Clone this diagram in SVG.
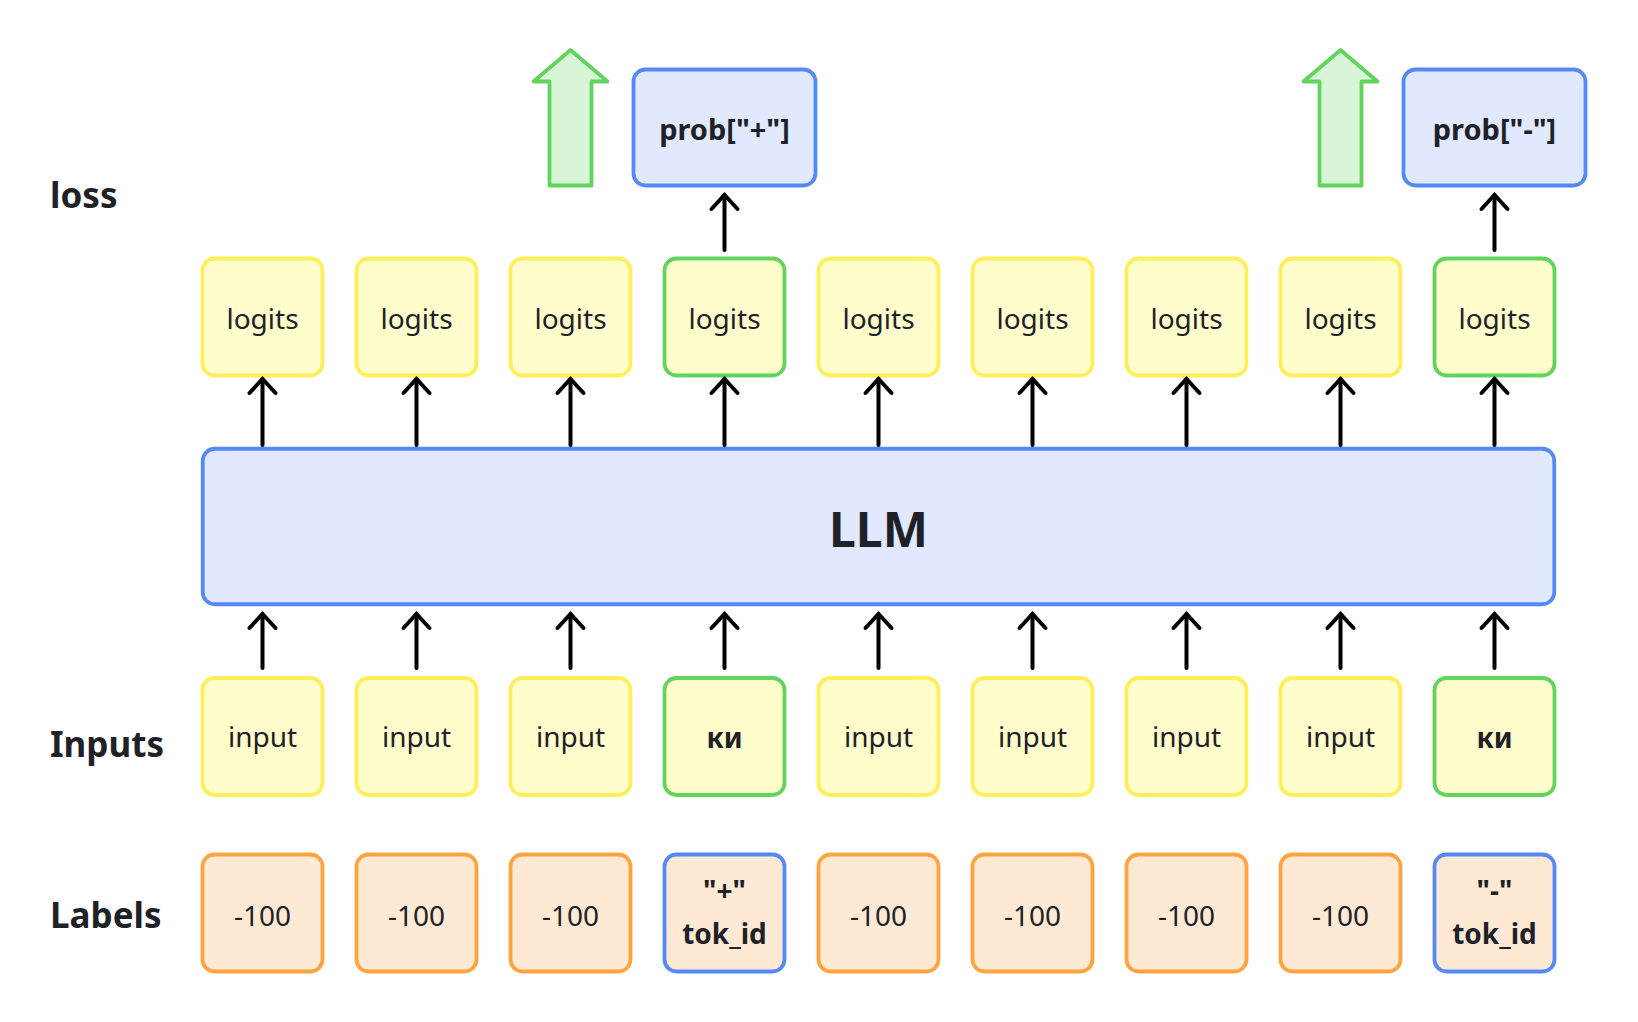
<svg xmlns="http://www.w3.org/2000/svg" width="1638" height="1022" viewBox="0 0 1638 1022">
  <style>
    text { font-family: "Noto Sans", "Open Sans", "Liberation Sans", sans-serif; fill: #1e2127; }
    .t { font-size: 28px; text-anchor: middle; }
    .b { font-weight: bold; }
    .p { font-size: 29px; }
    .row { font-size: 35px; font-weight: bold; }
    .yellow { fill: #fffdcb; stroke: #feee5a; stroke-width: 3.8; }
    .green { fill: #fffdcb; stroke: #62d35c; stroke-width: 3.8; }
    .orange { fill: #fde9d4; stroke: #fda43f; stroke-width: 3.8; }
    .blueo { fill: #fde9d4; stroke: #5589f6; stroke-width: 3.8; }
    .blue { fill: #e0e9fd; stroke: #5589f6; stroke-width: 3.8; }
    .big { fill: #d9f5d7; stroke: #62d35c; stroke-width: 3.8; stroke-linejoin: round; }
    .conn { stroke: #000; stroke-width: 4; fill: none; stroke-linecap: round; marker-end: url(#ah); }
  </style>
  <defs>
    <marker id="ah" markerUnits="userSpaceOnUse" viewBox="-18 -18 22 36" refX="0" refY="0" markerWidth="22" markerHeight="36" orient="auto" overflow="visible">
      <path d="M-14,-13 L0,0 L-14,13" fill="none" stroke="#000" stroke-width="4" stroke-linecap="round" stroke-linejoin="miter"/>
    </marker>
  </defs>

  <rect width="1638" height="1022" fill="#fff"/>

  <g id="row-labels">
    <text class="row" x="50" y="208">loss</text>
    <text class="row" x="50" y="757">Inputs</text>
    <text class="row" x="50" y="928">Labels</text>
  </g>

  <g id="loss-arrow-1">
    <polygon class="big" points="570.5,50 607.5,81.5 591.5,81.5 591.5,185.5 549.5,185.5 549.5,81.5 533.5,81.5"/>
  </g>
  <g id="loss-arrow-2">
    <polygon class="big" points="1340.5,50 1377.5,81.5 1361.5,81.5 1361.5,185.5 1319.5,185.5 1319.5,81.5 1303.5,81.5"/>
  </g>

  <g id="prob-plus">
    <rect class="blue" x="633.5" y="69.5" width="182" height="116" rx="12"/>
    <text class="t b p" x="724.5" y="140">prob["+"]</text>
  </g>
  <g id="prob-minus">
    <rect class="blue" x="1403.5" y="69.5" width="182" height="116" rx="12"/>
    <text class="t b p" x="1494.5" y="140">prob["-"]</text>
  </g>

  <g id="logits-1"><rect class="yellow" x="202.5" y="258.5" width="120" height="117" rx="12"/><text class="t" x="262.5" y="329">logits</text></g>
  <g id="logits-2"><rect class="yellow" x="356.5" y="258.5" width="120" height="117" rx="12"/><text class="t" x="416.5" y="329">logits</text></g>
  <g id="logits-3"><rect class="yellow" x="510.5" y="258.5" width="120" height="117" rx="12"/><text class="t" x="570.5" y="329">logits</text></g>
  <g id="logits-4"><rect class="green" x="664.5" y="258.5" width="120" height="117" rx="12"/><text class="t" x="724.5" y="329">logits</text></g>
  <g id="logits-5"><rect class="yellow" x="818.5" y="258.5" width="120" height="117" rx="12"/><text class="t" x="878.5" y="329">logits</text></g>
  <g id="logits-6"><rect class="yellow" x="972.5" y="258.5" width="120" height="117" rx="12"/><text class="t" x="1032.5" y="329">logits</text></g>
  <g id="logits-7"><rect class="yellow" x="1126.5" y="258.5" width="120" height="117" rx="12"/><text class="t" x="1186.5" y="329">logits</text></g>
  <g id="logits-8"><rect class="yellow" x="1280.5" y="258.5" width="120" height="117" rx="12"/><text class="t" x="1340.5" y="329">logits</text></g>
  <g id="logits-9"><rect class="green" x="1434.5" y="258.5" width="120" height="117" rx="12"/><text class="t" x="1494.5" y="329">logits</text></g>

  <g id="llm">
    <rect class="blue" x="202.75" y="448.75" width="1351.5" height="155.5" rx="12"/>
    <text x="878.5" y="547" font-size="48" font-weight="bold" text-anchor="middle">LLM</text>
  </g>

  <g id="input-1"><rect class="yellow" x="202.5" y="678" width="120" height="117" rx="12"/><text class="t" x="262.5" y="747">input</text></g>
  <g id="input-2"><rect class="yellow" x="356.5" y="678" width="120" height="117" rx="12"/><text class="t" x="416.5" y="747">input</text></g>
  <g id="input-3"><rect class="yellow" x="510.5" y="678" width="120" height="117" rx="12"/><text class="t" x="570.5" y="747">input</text></g>
  <g id="input-4"><rect class="green" x="664.5" y="678" width="120" height="117" rx="12"/><text class="t b" x="724.5" y="748">ки</text></g>
  <g id="input-5"><rect class="yellow" x="818.5" y="678" width="120" height="117" rx="12"/><text class="t" x="878.5" y="747">input</text></g>
  <g id="input-6"><rect class="yellow" x="972.5" y="678" width="120" height="117" rx="12"/><text class="t" x="1032.5" y="747">input</text></g>
  <g id="input-7"><rect class="yellow" x="1126.5" y="678" width="120" height="117" rx="12"/><text class="t" x="1186.5" y="747">input</text></g>
  <g id="input-8"><rect class="yellow" x="1280.5" y="678" width="120" height="117" rx="12"/><text class="t" x="1340.5" y="747">input</text></g>
  <g id="input-9"><rect class="green" x="1434.5" y="678" width="120" height="117" rx="12"/><text class="t b" x="1494.5" y="748">ки</text></g>

  <g id="label-1"><rect class="orange" x="202.5" y="854.5" width="120" height="117" rx="12"/><text class="t" x="262.5" y="926" font-size="29">-100</text></g>
  <g id="label-2"><rect class="orange" x="356.5" y="854.5" width="120" height="117" rx="12"/><text class="t" x="416.5" y="926" font-size="29">-100</text></g>
  <g id="label-3"><rect class="orange" x="510.5" y="854.5" width="120" height="117" rx="12"/><text class="t" x="570.5" y="926" font-size="29">-100</text></g>
  <g id="label-4"><rect class="blueo" x="664.5" y="854.5" width="120" height="117" rx="12"/><text class="t b" x="724.5" y="901">"+"</text><text class="t b" x="724.5" y="944">tok_id</text></g>
  <g id="label-5"><rect class="orange" x="818.5" y="854.5" width="120" height="117" rx="12"/><text class="t" x="878.5" y="926" font-size="29">-100</text></g>
  <g id="label-6"><rect class="orange" x="972.5" y="854.5" width="120" height="117" rx="12"/><text class="t" x="1032.5" y="926" font-size="29">-100</text></g>
  <g id="label-7"><rect class="orange" x="1126.5" y="854.5" width="120" height="117" rx="12"/><text class="t" x="1186.5" y="926" font-size="29">-100</text></g>
  <g id="label-8"><rect class="orange" x="1280.5" y="854.5" width="120" height="117" rx="12"/><text class="t" x="1340.5" y="926" font-size="29">-100</text></g>
  <g id="label-9"><rect class="blueo" x="1434.5" y="854.5" width="120" height="117" rx="12"/><text class="t b" x="1494.5" y="901">"-"</text><text class="t b" x="1494.5" y="944">tok_id</text></g>

  <g id="connectors">
    <line class="conn" x1="724.5" y1="250" x2="724.5" y2="195"/>
    <line class="conn" x1="1494.5" y1="250" x2="1494.5" y2="195"/>

    <line class="conn" x1="262.5" y1="445" x2="262.5" y2="379"/>
    <line class="conn" x1="416.5" y1="445" x2="416.5" y2="379"/>
    <line class="conn" x1="570.5" y1="445" x2="570.5" y2="379"/>
    <line class="conn" x1="724.5" y1="445" x2="724.5" y2="379"/>
    <line class="conn" x1="878.5" y1="445" x2="878.5" y2="379"/>
    <line class="conn" x1="1032.5" y1="445" x2="1032.5" y2="379"/>
    <line class="conn" x1="1186.5" y1="445" x2="1186.5" y2="379"/>
    <line class="conn" x1="1340.5" y1="445" x2="1340.5" y2="379"/>
    <line class="conn" x1="1494.5" y1="445" x2="1494.5" y2="379"/>

    <line class="conn" x1="262.5" y1="668" x2="262.5" y2="614"/>
    <line class="conn" x1="416.5" y1="668" x2="416.5" y2="614"/>
    <line class="conn" x1="570.5" y1="668" x2="570.5" y2="614"/>
    <line class="conn" x1="724.5" y1="668" x2="724.5" y2="614"/>
    <line class="conn" x1="878.5" y1="668" x2="878.5" y2="614"/>
    <line class="conn" x1="1032.5" y1="668" x2="1032.5" y2="614"/>
    <line class="conn" x1="1186.5" y1="668" x2="1186.5" y2="614"/>
    <line class="conn" x1="1340.5" y1="668" x2="1340.5" y2="614"/>
    <line class="conn" x1="1494.5" y1="668" x2="1494.5" y2="614"/>
  </g>
</svg>
